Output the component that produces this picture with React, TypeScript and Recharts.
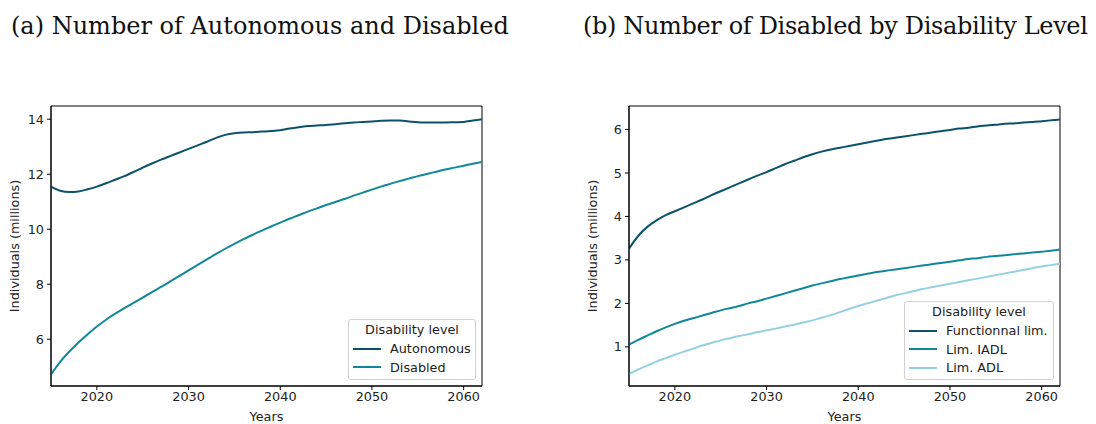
import { LineChart, Line, XAxis, YAxis, ReferenceArea } from 'recharts';

const years = [
  2015, 2016, 2017, 2018, 2019, 2020, 2021, 2022, 2023, 2024, 2025, 2026, 2027, 2028, 2029, 2030,
  2031, 2032, 2033, 2034, 2035, 2036, 2037, 2038, 2039, 2040, 2041, 2042, 2043, 2044, 2045, 2046,
  2047, 2048, 2049, 2050, 2051, 2052, 2053, 2054, 2055, 2056, 2057, 2058, 2059, 2060, 2061, 2062,
];

const autonomous = [
  11.55, 11.4, 11.35, 11.37, 11.45, 11.55, 11.67, 11.8, 11.93, 12.08, 12.24, 12.39, 12.53, 12.66, 12.79, 12.92,
  13.05, 13.18, 13.32, 13.43, 13.49, 13.52, 13.53, 13.55, 13.57, 13.6, 13.66, 13.71, 13.75, 13.77, 13.79, 13.82,
  13.85, 13.88, 13.9, 13.92, 13.94, 13.95, 13.95, 13.92, 13.89, 13.88, 13.88, 13.88, 13.89, 13.9, 13.95, 14.0,
];

const disabled = [
  4.72, 5.18, 5.55, 5.88, 6.18, 6.46, 6.71, 6.93, 7.13, 7.32, 7.51, 7.71, 7.9, 8.1, 8.3, 8.5,
  8.7, 8.9, 9.1, 9.29, 9.47, 9.64, 9.8, 9.95, 10.1, 10.24, 10.38, 10.51, 10.64, 10.76, 10.88, 10.99,
  11.1, 11.22, 11.33, 11.44, 11.55, 11.65, 11.75, 11.84, 11.93, 12.01, 12.09, 12.17, 12.24, 12.31, 12.38, 12.44,
];

const functionalLim = [
  3.26, 3.55, 3.76, 3.91, 4.03, 4.12, 4.21, 4.3, 4.39, 4.49, 4.58, 4.67, 4.76, 4.85, 4.94, 5.02,
  5.11, 5.2, 5.28, 5.36, 5.43, 5.49, 5.54, 5.58, 5.62, 5.66, 5.7, 5.74, 5.78, 5.81, 5.84, 5.87,
  5.9, 5.93, 5.96, 5.99, 6.02, 6.04, 6.07, 6.09, 6.11, 6.13, 6.14, 6.16, 6.17, 6.19, 6.21, 6.23,
];

const limIADL = [
  1.05, 1.16, 1.26, 1.36, 1.45, 1.53, 1.6, 1.66, 1.72, 1.78, 1.84, 1.89, 1.94, 2.0, 2.05, 2.11,
  2.17, 2.23, 2.29, 2.35, 2.41, 2.46, 2.51, 2.56, 2.6, 2.64, 2.68, 2.72, 2.75, 2.78, 2.81, 2.84,
  2.87, 2.9, 2.93, 2.96, 2.99, 3.02, 3.04, 3.07, 3.09, 3.11, 3.13, 3.15, 3.17, 3.19, 3.21, 3.24,
];

const limADL = [
  0.38, 0.48, 0.57, 0.66, 0.74, 0.82, 0.89, 0.96, 1.03, 1.09, 1.15, 1.2, 1.25, 1.29, 1.34, 1.38,
  1.42, 1.47, 1.51, 1.56, 1.61, 1.67, 1.73, 1.8, 1.87, 1.94, 2.0, 2.06, 2.12, 2.18, 2.23, 2.28,
  2.33, 2.37, 2.41, 2.45, 2.49, 2.53, 2.57, 2.61, 2.65, 2.69, 2.73, 2.77, 2.81, 2.85, 2.88, 2.91,
];

const xTicks = [2020, 2030, 2040, 2050, 2060];
const yTicksA = [6, 8, 10, 12, 14];
const yTicksB = [1, 2, 3, 4, 5, 6];

const DARK = '#0b5368';
const MID = '#108898';
const LIGHT = '#94d0df';

const seriesA = [
  { key: 'autonomous', label: 'Autonomous', color: DARK, values: autonomous },
  { key: 'disabled', label: 'Disabled', color: MID, values: disabled },
];

const seriesB = [
  { key: 'functional', label: 'Functionnal lim.', color: DARK, values: functionalLim },
  { key: 'iadl', label: 'Lim. IADL', color: MID, values: limIADL },
  { key: 'adl', label: 'Lim. ADL', color: LIGHT, values: limADL },
];

const FONT = '"DejaVu Sans", sans-serif';
const FS = 12.8;

type Series = { key: string; label: string; color: string; values: number[] };

function buildRows(series: Series[]) {
  return years.map((year, i) => {
    const row: Record<string, number> = { year };
    series.forEach((s) => {
      row[s.key] = s.values[i];
    });
    return row;
  });
}

interface PanelProps {
  left: number;
  axisWidth: number;
  series: Series[];
  yDomain: [number, number];
  yTicks: number[];
  legend: { left: number; top: number; width: number; height: number };
}

function Panel({ left, axisWidth, series, yDomain, yTicks, legend }: PanelProps) {
  const rows = buildRows(series);
  const width = 548;
  const plotRight = axisWidth + 431;
  const tickStyle = { fontSize: FS, fill: '#222', fontFamily: FONT };

  return (
    <div style={{ position: 'absolute', left, top: 0, width, height: 424 }}>
      <LineChart width={width} height={424} data={rows} margin={{ top: 106, right: width - plotRight, bottom: 8, left: 0 }}>
        <XAxis
          dataKey="year"
          type="number"
          domain={[2015, 2062]}
          ticks={xTicks}
          allowDataOverflow
          height={30}
          tick={tickStyle}
          tickSize={4}
          tickMargin={2}
          stroke="#000"
          label={() => (
            <text x={axisWidth + 215.5} y={416} textAnchor="middle" dominantBaseline="central" fontSize={FS} fontFamily={FONT} fill="#222">
              Years
            </text>
          )}
        />
        <YAxis
          type="number"
          domain={yDomain}
          ticks={yTicks}
          allowDataOverflow
          width={axisWidth}
          tick={tickStyle}
          tickSize={4}
          tickMargin={3}
          stroke="#000"
          label={() => (
            <text
              x={axisWidth - 37}
              y={246}
              transform={`rotate(-90 ${axisWidth - 37} 246)`}
              textAnchor="middle"
              dominantBaseline="central"
              fontSize={FS}
              fontFamily={FONT}
              fill="#222"
            >
              Individuals (millions)
            </text>
          )}
        />
        <ReferenceArea x1={2015} x2={2062} y1={yDomain[0]} y2={yDomain[1]} fill="none" stroke="#000" strokeWidth={1} />
        {series.map((s) => (
          <Line key={s.key} dataKey={s.key} type="monotone" stroke={s.color} strokeWidth={2} dot={false} isAnimationActive={false} />
        ))}
      </LineChart>
      <div
        style={{
          position: 'absolute',
          left: legend.left,
          top: legend.top,
          width: legend.width,
          height: legend.height,
          boxSizing: 'border-box',
          border: '1px solid #d0d0d0',
          borderRadius: 3,
          background: 'rgba(255,255,255,0.85)',
          fontFamily: FONT,
          fontSize: FS,
          color: '#222',
        }}
      >
        <div style={{ textAlign: 'center', lineHeight: '18.5px', marginTop: 1 }}>Disability level</div>
        {series.map((s) => (
          <div key={s.key} style={{ display: 'flex', alignItems: 'center', height: 18.5, paddingLeft: 4 }}>
            <span style={{ display: 'inline-block', width: 28, height: 2, background: s.color, marginRight: 9 }} />
            <span>{s.label}</span>
          </div>
        ))}
      </div>
    </div>
  );
}

export default function App() {
  const titleStyle = {
    position: 'absolute' as const,
    top: 11,
    fontFamily: '"DejaVu Serif", serif',
    fontSize: 24,
    lineHeight: '30px',
    color: '#111',
    whiteSpace: 'nowrap' as const,
  };
  return (
    <div style={{ position: 'absolute', left: 0, top: 0, width: 1096, height: 424, background: '#fff', overflow: 'hidden' }}>
      <div style={{ ...titleStyle, left: 11 }}>(a) Number of Autonomous and Disabled</div>
      <div style={{ ...titleStyle, left: 583, letterSpacing: -0.35 }}>(b) Number of Disabled by Disability Level</div>
      <Panel
        left={0}
        axisWidth={51}
        series={seriesA}
        yDomain={[4.3, 14.48]}
        yTicks={yTicksA}
        legend={{ left: 348, top: 319, width: 128, height: 61 }}
      />
      <Panel
        left={548}
        axisWidth={81}
        series={seriesB}
        yDomain={[0.1, 6.54]}
        yTicks={yTicksB}
        legend={{ left: 356, top: 301, width: 150, height: 79 }}
      />
    </div>
  );
}
